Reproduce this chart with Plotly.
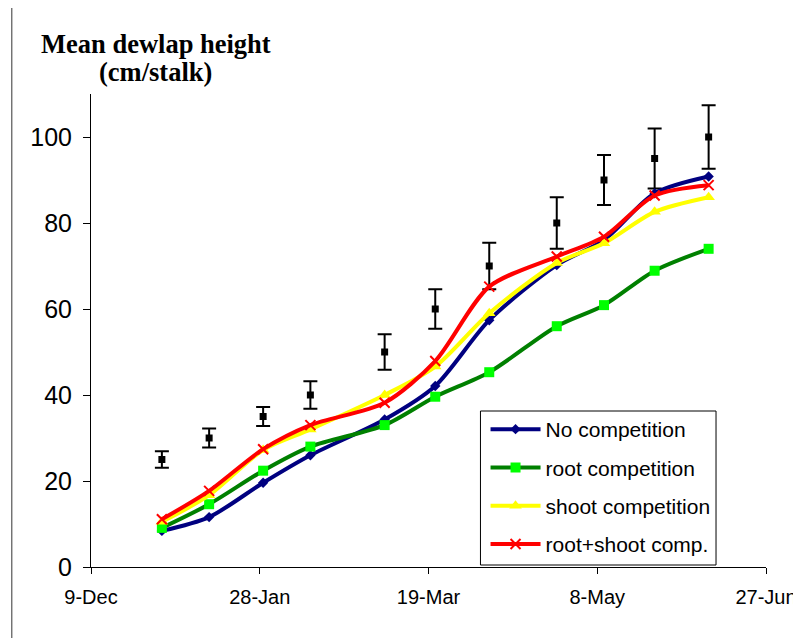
import plotly.graph_objects as go

# ---- data ----
dates = ["2001-12-30", "2002-01-13", "2002-01-29", "2002-02-12", "2002-03-06",
         "2002-03-21", "2002-04-06", "2002-04-26", "2002-05-10", "2002-05-25", "2002-06-10"]

no_comp = [8.4, 11.6, 19.6, 26.0, 34.3, 42.1, 57.4, 70.2, 76.0, 86.9, 90.8]
root_comp = [9.1, 14.6, 22.4, 28.0, 33.0, 39.6, 45.3, 56.0, 60.9, 68.9, 74.0]
shoot_comp = [10.5, 16.7, 27.2, 32.0, 40.0, 46.6, 59.0, 70.7, 75.3, 82.6, 86.0]
root_shoot = [11.1, 17.7, 27.4, 33.0, 38.2, 47.9, 65.2, 72.2, 76.8, 86.4, 88.8]

ref_vals = [25, 30, 35, 40, 50, 60, 70, 80, 90, 95, 100]
ref_err = [1.9, 2.2, 2.2, 3.2, 4.1, 4.6, 5.4, 6.0, 5.8, 7.0, 7.4]

xtick_vals = ["2001-12-09", "2002-01-28", "2002-03-19", "2002-05-08", "2002-06-27"]
xtick_text = ["9-Dec", "28-Jan", "19-Mar", "8-May", "27-Jun"]
ytick_vals = [0, 20, 40, 60, 80, 100]

series = [
    ("No competition", no_comp, "#000080", "#000080", "diamond", 8),
    ("root competition", root_comp, "#008000", "#00FF00", "square", 10),
    ("shoot competition", shoot_comp, "#FFFF00", "#FFFF00", "triangle-up", 11),
    ("root+shoot comp.", root_shoot, "#FF0000", "#FF0000", "x-thin", 10),
]

fig = go.Figure()

fig.add_trace(go.Scatter(
    x=dates, y=ref_vals, mode="markers", showlegend=False,
    marker=dict(symbol="square", size=7, color="black"),
    error_y=dict(type="data", array=ref_err, visible=True, color="black",
                 thickness=2, width=7),
))

for i, (name, vals, lc, mc, sym, sz) in enumerate(series):
    mk = dict(symbol=sym, size=sz, color=mc)
    if sym == "x-thin":
        mk["line"] = dict(color=mc, width=2)
    fig.add_trace(go.Scatter(
        x=dates, y=vals, name=name, mode="lines+markers",
        legendgroup="g%d" % i,
        line=dict(color=lc, width=4, shape="spline", smoothing=0.8),
        marker=mk,
    ))

axis_font = "Liberation Sans, Arial, sans-serif"

# legend frame (paper coords)
lx0, lx1 = (484 - 90.5) / 682, (722 - 90.5) / 682
ly0, ly1 = (567 - 565) / 473, (567 - 411) / 473

fig.update_layout(
    width=801, height=638,
    margin=dict(l=82.5, r=36, t=86, b=79, pad=0),
    paper_bgcolor="white", plot_bgcolor="white",
    showlegend=True,
    legend=dict(
        x=0.5845, y=0.334, xanchor="left", yanchor="top",
        bgcolor="rgba(0,0,0,0)", borderwidth=0,
        font=dict(family=axis_font, size=21, color="black"),
        traceorder="grouped", tracegroupgap=8, itemwidth=50,
    ),
    xaxis=dict(
        type="date", range=["2001-12-09", "2002-06-27"],
        tickmode="array", tickvals=xtick_vals, ticktext=xtick_text,
        showgrid=False, zeroline=False, showline=True, linecolor="black", linewidth=1,
        ticks="outside", ticklen=6, tickcolor="black", tickwidth=1,
        tickfont=dict(family=axis_font, size=20, color="black"),
        ticklabelstandoff=6, ticklabeloverflow="allow",
    ),
    yaxis=dict(
        range=[0, 110], tickmode="array", tickvals=ytick_vals,
        showgrid=False, zeroline=False, showline=True, linecolor="black", linewidth=1,
        ticks="outside", ticklen=7, tickcolor="black", tickwidth=1,
        tickfont=dict(family=axis_font, size=25, color="black"),
        ticklabelstandoff=6,
    ),
    shapes=[
        dict(type="rect", xref="paper", yref="paper",
             x0=-0.1173, x1=1.3, y0=-0.4, y1=1.185,
             line=dict(color="#333333", width=1), fillcolor="rgba(0,0,0,0)",
             layer="below"),
        dict(type="rect", xref="paper", yref="paper",
             x0=lx0, x1=lx1, y0=ly0, y1=ly1,
             line=dict(color="black", width=1), fillcolor="white",
             layer="above"),
    ],
    annotations=[
        dict(text="<b>Mean dewlap height</b>", xref="paper", yref="paper",
             x=0.096, y=1.106, xanchor="center", yanchor="middle", showarrow=False,
             font=dict(family="Liberation Serif, Times New Roman, serif", size=26.5, color="black")),
        dict(text="<b>(cm/stalk)</b>", xref="paper", yref="paper",
             x=0.096, y=1.047, xanchor="center", yanchor="middle", showarrow=False,
             font=dict(family="Liberation Serif, Times New Roman, serif", size=26.5, color="black")),
    ],
)

fig.write_html("out.html")
